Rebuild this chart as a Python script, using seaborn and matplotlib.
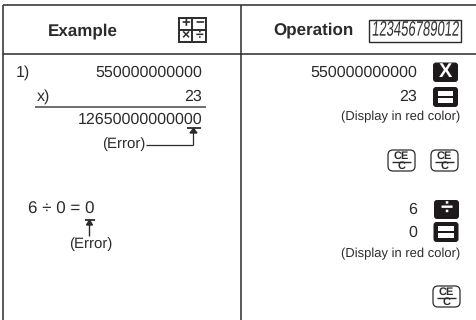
import seaborn as sns
import matplotlib
matplotlib.use('Agg')
import matplotlib.pyplot as plt
from matplotlib.patches import FancyBboxPatch, Rectangle
from matplotlib.patheffects import AbstractPathEffect
from matplotlib.transforms import Affine2D

headers = ["Example", "Operation"]
lcd_digits = "123456789012"
multiplicand = "550000000000"
multiplier = "23"
product = "12650000000000"
row_labels = ["1)", "x)"]
division = "6 ÷ 0 = 0"
divide_in = ["6", "0"]
error_text = "(Error)"
red_note = "(Display in red color)"
ce_top = "CE"
ce_bottom = "C"
ink = "#2b2b2b"

sns.set_theme(style="white")
plt.rcParams['font.family'] = ['Liberation Sans', 'DejaVu Sans']
plt.rcParams['text.hinting'] = 'none'
plt.rcParams['text.hinting_factor'] = 1

fig = plt.figure(figsize=(4.77, 3.2), dpi=100)
ax = fig.add_axes([0, 0, 1, 1])
ax.set_xlim(0, 477)
ax.set_ylim(320, 0)
ax.axis("off")

# stretches the text around a point so the lcd digits look tall and narrow
class Stretch(AbstractPathEffect):
    def __init__(self, cx, cy, sy):
        super().__init__()
        self.cx, self.cy, self.sy = cx, cy, sy
    def draw_path(self, renderer, gc, tpath, affine, rgbFace=None):
        t = Affine2D().translate(-self.cx, -self.cy).scale(1, self.sy).skew_deg(5, 0).translate(self.cx, self.cy)
        renderer.draw_path(gc, tpath, affine + t, rgbFace)

def line(x, y, lw=1.1, color=ink):
    ax.plot(x, y, color=color, lw=lw, solid_capstyle="butt")

def txt(x, y, s, ha="right", size=11.3, **kw):
    kw.setdefault("color", ink)
    return ax.text(x, y, s, ha=ha, va="center", fontsize=size, **kw)

def dark_key(x0, y0, w, h):
    ax.add_patch(FancyBboxPatch((x0 + 2, y0 + 2), w - 4, h - 4, boxstyle="round,pad=2,rounding_size=3",
                                fc="#1e1a1b", ec="none"))

def equal_key(x0, y0):
    dark_key(x0, y0, 25, 20)
    ax.add_patch(Rectangle((x0 + 5, y0 + 4), 15.5, 5, fc="white", ec="none"))
    ax.add_patch(Rectangle((x0 + 5, y0 + 11), 15.5, 5, fc="white", ec="none"))

def ce_key(x0, y0):
    ax.add_patch(FancyBboxPatch((x0 + 4, y0 + 4), 19, 13, boxstyle="round,pad=4,rounding_size=5",
                                fc="white", ec=ink, lw=0.9))
    txt(x0 + 13.5, y0 + 6.5, ce_top, ha="center", size=7.8, fontweight="bold")
    line([x0 + 4, x0 + 23], [y0 + 11.5, y0 + 11.5], lw=1.0)
    txt(x0 + 13.5, y0 + 16.2, ce_bottom, ha="center", size=7.8, fontweight="bold")

# table rules
line([3.5, 477], [5, 5])
line([3.5, 477], [53.5, 53.5])
line([3.5, 3.5], [5, 320])
line([241, 241], [5, 320])

# header
txt(83, 31, headers[0], ha="center", size=12.2, fontweight="bold")
txt(313.5, 30.5, headers[1], ha="center", size=12.2, fontweight="bold")

# + - x / icon
ax.add_patch(Rectangle((179, 17.5), 27, 24, fc="white", ec=ink, lw=1.4))
line([192.5, 192.5], [17.5, 41.5], lw=1.4)
line([179, 206], [29.5, 29.5], lw=1.4)
txt(185.8, 23.4, "+", ha="center", size=11, fontweight="bold")
txt(199.3, 23.4, "−", ha="center", size=11, fontweight="bold")
txt(185.8, 35.6, "×", ha="center", size=10, fontweight="bold")
txt(199.3, 35.6, "÷", ha="center", size=10, fontweight="bold")

# lcd box
ax.add_patch(Rectangle((369.5, 19.5), 92, 22, fc="white", ec=ink, lw=1.0))
lcd = txt(415.5, 30.3, lcd_digits, ha="center", size=9.4, color="#333333")
lcd_cx, lcd_cy = ax.transData.transform((415.5, 30.3))
lcd.set_path_effects([Stretch(lcd_cx, lcd_cy, 1.6)])

# example 1
txt(16, 73, row_labels[0], ha="left")
txt(202, 73, multiplicand)
txt(37, 97, row_labels[1], ha="left")
txt(202, 97, multiplier)
line([35, 206], [107, 107], lw=1.2, color="#555555")
txt(202, 120, product)
line([187, 201.5], [127.5, 127.5], lw=1.3)
line([146, 193.5], [144.5, 144.5], lw=0.9)
line([193.5, 193.5], [144.5, 132], lw=0.9)
ax.fill([190, 197, 193.5], [133, 133, 128.5], color=ink)
txt(124, 144.5, error_text, ha="center", size=10.5)

# example 2
txt(28, 209.5, division, ha="left", size=11.9)
line([85, 95], [219.5, 219.5], lw=1.3)
line([89.5, 89.5], [236, 224], lw=1.0)
ax.fill([86.5, 92.5, 89.5], [225, 225, 220], color=ink)
txt(91, 244.5, error_text, ha="center", size=10.5)

# operation 1
txt(417, 73, multiplicand)
dark_key(433, 62.5, 25, 19.5)
txt(445.5, 72.3, "X", ha="center", size=14.5, color="white", fontweight="bold")
txt(417, 97, multiplier)
equal_key(433, 87)
txt(460, 117, red_note, size=9.7)
ce_key(388, 150)
ce_key(431, 150)

# operation 2
txt(417, 209.5, divide_in[0])
dark_key(434, 200, 25, 19)
txt(446.5, 209.5, "÷", ha="center", size=16, color="white", fontweight="bold")
txt(417, 232.5, divide_in[1])
equal_key(433.5, 222)
txt(460.5, 254, red_note, size=9.7)
ce_key(433, 286)

fig.savefig("out.png", dpi=100)
plt.close()
